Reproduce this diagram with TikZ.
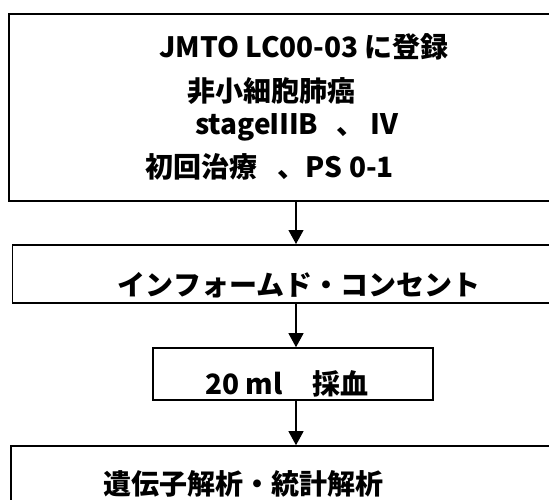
\documentclass[tikz,border=0pt]{standalone}
\usepackage{fontspec}
\setmainfont{Noto Sans CJK JP}
\usetikzlibrary{arrows.meta}

\tikzset{
  box/.style={draw, line width=1.6pt, inner sep=0pt},
  txt/.style={inner sep=0pt, font=\fontsize{28}{32}\selectfont\bfseries},
  arr/.style={line width=1.2pt, -{Triangle[width=15pt,length=14pt]}}
}

\begin{document}
\begin{tikzpicture}[x=1pt, y=-1pt]
      \useasboundingbox (0, 0) rectangle (549, 500);
      \clip (0, 0) rectangle (549, 500);
      % boxes
      \node[box, minimum width=591, minimum height=187.5] (entry) at (304.5, 107.5){};
      \node[box, minimum width=588, minimum height=58] (consent) at (306.5, 273.8){};
      \node[box, minimum width=280, minimum height=52] (blood) at (293, 374){};
      \node[box, minimum width=589, minimum height=90] (analysis) at (305.5, 491){};
      % texts
      \node[txt] (entry1) at (304, 47){JMTO LC00-03\hspace{6pt}に登録};
      \node[txt] (entry2) at (271, 91){非小細胞肺癌};
      \node[txt] (entry3) at (297, 127){stageⅢB\hspace{18pt}、 Ⅳ};
      \node[txt] (entry4) at (270, 167){初回治療\hspace{20pt}、PS 0-1};
      \node[txt] (consent1) at (299, 285){インフォームド・コンセント};
      \node[txt] (blood1) at (287, 384){20 ml\hspace{30pt}採血};
      \node[txt] (analysis1) at (243, 484){遺伝子解析・統計解析};
      % arrows
      \coordinate (a1) at (296, 0);
      \draw[arr] (a1 |- entry.south) to (a1 |- consent.north);
      \draw[arr] (a1 |- consent.south) to (a1 |- blood.north);
      \draw[arr] (a1 |- blood.south) to (a1 |- analysis.north);
\end{tikzpicture}
\end{document}
